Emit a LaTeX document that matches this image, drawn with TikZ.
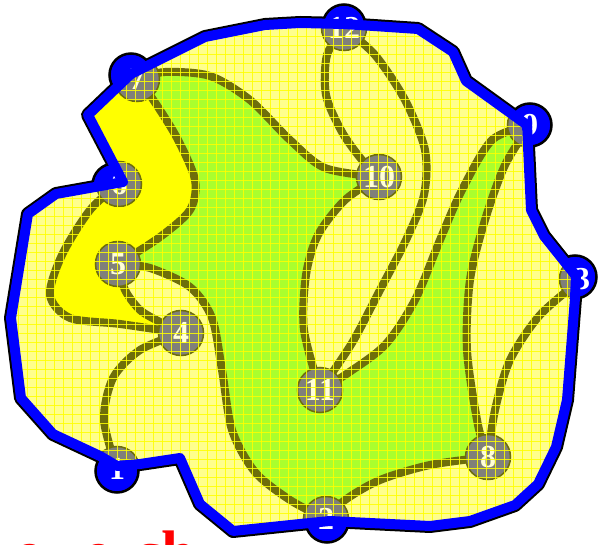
\documentclass[tikz,border=0pt]{standalone}
\usepackage{fontspec}
\setmainfont{Liberation Serif}
\definecolor{paleY}{RGB}{255,255,140}
\definecolor{brightY}{RGB}{255,255,0}
\definecolor{grn}{RGB}{170,255,45}
\definecolor{edgeC}{RGB}{110,110,10}
\definecolor{nodeG}{RGB}{128,128,122}
\definecolor{cream}{RGB}{255,255,215}
\definecolor{gridY}{RGB}{255,255,0}
\definecolor{blu}{RGB}{0,0,255}
\begin{document}
\begin{tikzpicture}[x=1pt,y=-1pt,
  edge/.style={draw=edgeC, line width=8pt, line cap=round},
  gnode/.style={circle, minimum size=45pt, inner sep=0pt, fill=nodeG, draw=edgeC, line width=1.5pt, text=cream, font=\bfseries\fontsize{32}{32}\selectfont},
  wlabel/.style={inner sep=0pt, text=white, font=\bfseries\fontsize{32}{32}\selectfont},
  bcircle/.style={fill=blu, draw=black, line width=2.5pt},
  gridline/.style={draw=gridY, line width=0.9pt, opacity=0.85},
]
\useasboundingbox (0,0) rectangle (598,545);
% node positions
\coordinate (c1) at (117,469);
\coordinate (c2) at (326,519);
\coordinate (c3) at (582,279);
\coordinate (c4) at (181,333);
\coordinate (c5) at (118,264);
\coordinate (c6) at (119,184);
\coordinate (c7) at (137,79);
\coordinate (c8) at (488,457);
\coordinate (c9) at (530,125);
\coordinate (c10) at (379,177);
\coordinate (c11) at (320,390);
\coordinate (c12) at (344,28);
\def\outline{(131,74) -- (205,37) -- (265,25) -- (300,23) -- (344,24) -- (418,29) -- (453,52) -- (466,81) -- (527,125) -- (531,210) -- (544,236) -- (576,276) -- (575,298) -- (567,400) -- (556,447) -- (538,484) -- (515,505) -- (470,521) -- (430,526) -- (330,521) -- (300,524) -- (233,531) -- (200,504) -- (180,458) -- (140,464) -- (117,466) -- (100,456) -- (53,434) -- (21,398) -- (11,318) -- (28,214) -- (56,194) -- (123,182) -- (88,115) -- cycle}
% black outline of the border
\draw[black, line width=14pt, line join=round] \outline;
% blue boundary discs
\foreach \p in {(117,471),(327,521),(575,277),(114,185),(131,75),(530,125),(344,26)}
  \filldraw[bcircle] \p circle (21.5pt);
\foreach \k in {1,2,3,6,7,9,12}
  \node[wlabel] (w\k) at (c\k) {\k};
% interior
\fill[paleY] \outline;
\begin{scope}
\clip \outline;
% green face
\fill[grn] plot[smooth] coordinates {(c7) (165,72) (210,76) (250,100) (290,140) (325,168) (c10)}
  -- plot[smooth] coordinates {(c10) (345,200) (318,235) (306,275) (304,330) (c11)}
  -- plot[smooth] coordinates {(c11) (345,375) (385,345) (415,300) (440,240) (462,190) (492,140) (c9)}
  -- plot[smooth] coordinates {(c9) (505,165) (485,220) (470,280) (467,350) (478,425) (c8)}
  -- plot[smooth] coordinates {(c8) (430,465) (380,480) (345,500) (c2)}
  -- plot[smooth] coordinates {(c2) (290,500) (255,472) (232,430) (222,370) (212,318) (190,287) (150,268) (c5)}
  -- plot[smooth] coordinates {(c5) (160,237) (190,210) (195,180) (177,138) (152,98) (c7)} -- cycle;
% bright yellow face
\fill[brightY] plot[smooth] coordinates {(c7) (152,98) (177,138) (195,180) (190,210) (160,237) (c5)}
  -- plot[smooth] coordinates {(c5) (125,290) (140,310) (160,322) (c4)}
  -- plot[smooth] coordinates {(c4) (120,324) (70,318) (50,295) (62,255) (90,210) (c6)}
  -- (123,182) -- (88,115) -- (131,74) -- cycle;
% edges
\draw[edge] plot[smooth] coordinates {(c7) (165,72) (210,76) (250,100) (290,140) (325,168) (c10)};
\draw[edge] plot[smooth] coordinates {(c7) (152,98) (177,138) (195,180) (190,210) (160,237) (c5)};
\draw[edge] plot[smooth] coordinates {(c6) (90,210) (62,255) (50,295) (70,318) (120,324) (c4)};
\draw[edge] plot[smooth] coordinates {(c5) (125,290) (140,310) (160,322) (c4)};
\draw[edge] plot[smooth] coordinates {(c5) (150,268) (190,287) (212,318) (222,370) (232,430) (255,472) (290,500) (c2)};
\draw[edge] plot[smooth] coordinates {(c4) (140,350) (113,378) (104,420) (c1)};
\draw[edge] plot[smooth] coordinates {(c12) (327,55) (326,95) (342,132) (362,160) (c10)};
\draw[edge] plot[smooth] coordinates {(c12) (375,55) (405,100) (425,150) (424,195) (406,240) (380,290) (352,343) (c11)};
\draw[edge] plot[smooth] coordinates {(c10) (345,200) (318,235) (306,275) (304,330) (c11)};
\draw[edge] plot[smooth] coordinates {(c9) (492,140) (462,190) (440,240) (415,300) (385,345) (345,375) (c11)};
\draw[edge] plot[smooth] coordinates {(c9) (505,165) (485,220) (470,280) (467,350) (478,425) (c8)};
\draw[edge] plot[smooth] coordinates {(c3) (540,315) (510,360) (495,410) (c8)};
\draw[edge] plot[smooth] coordinates {(c8) (430,465) (380,480) (345,500) (c2)};
% nodes
\foreach \k in {1,...,12}
  \node[gnode] (n\k) at (c\k) {\k};
% grid overlay
\foreach \k in {0,9,...,603} {
  \draw[gridline] (\k,0) -- (\k,545);
  \draw[gridline] (0,\k) -- (598,\k);
}
\end{scope}
% blue border
\draw[blu, line width=10pt, line join=round] \outline;
% cut-off red caption
\node[anchor=base west, inner sep=0pt, text=red, font=\bfseries\fontsize{60}{60}\selectfont] (caption) at (15,573) {e\hspace{43pt}e\hspace{23pt}ch};
\end{tikzpicture}
\end{document}
